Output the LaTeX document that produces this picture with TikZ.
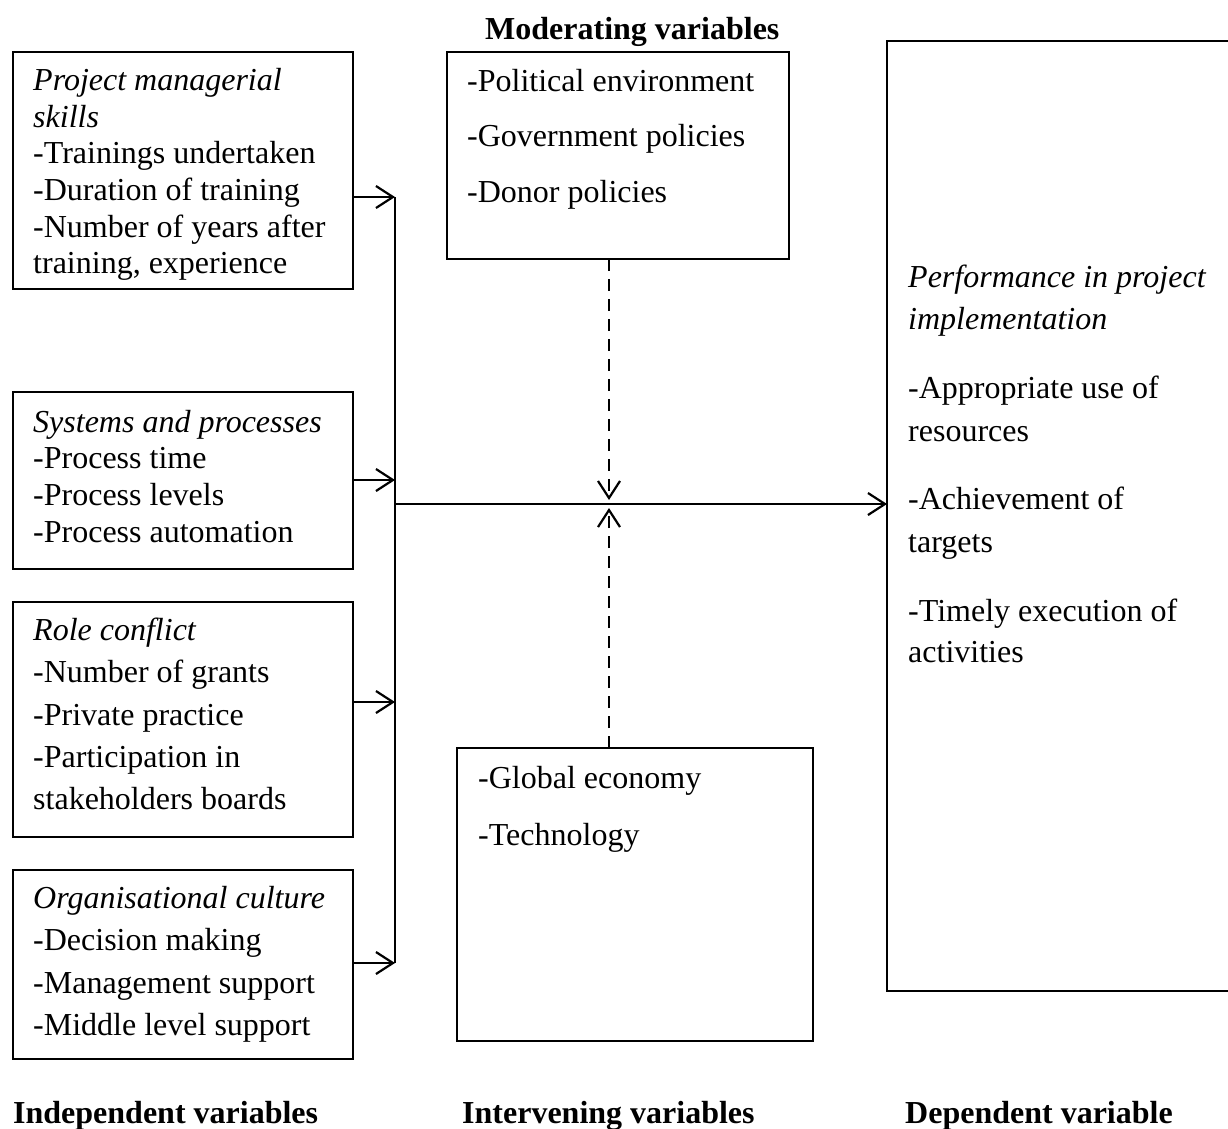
\documentclass[tikz,border=0pt]{standalone}
\usepackage{fontspec}
\setmainfont{Liberation Serif}
\usetikzlibrary{arrows.meta}
\begin{document}
\begin{tikzpicture}[x=1pt,y=-1pt,
  txt/.style={inner sep=0pt,anchor=base west,font=\fontsize{32}{38}\selectfont},
  itx/.style={txt,font=\fontsize{32}{38}\selectfont\itshape},
  bld/.style={txt,font=\fontsize{32}{38}\selectfont\bfseries},
  boxframe/.style={draw,line width=1.5pt},
  conn/.style={line width=2.2pt,-{Straight Barb[length=17pt,width=22pt,line width=2.2pt]}},
  dconn/.style={conn,dash pattern=on 12pt off 8pt},
  bus/.style={line width=2.2pt}]
\clip (0,0) rectangle (1228,1128);
\fill[white] (0,0) rectangle (1228,1128);

% boxes
\draw[boxframe] (13,52) rectangle (353,289);
\draw[boxframe] (13,392) rectangle (353,569);
\draw[boxframe] (13,602) rectangle (353,837);
\draw[boxframe] (13,870) rectangle (353,1059);
\draw[boxframe] (447,52) rectangle (789,259);
\draw[boxframe] (457,748) rectangle (813,1041);
\draw[boxframe] (887,41) rectangle (1240,991);

% named anchors on the box edges
\coordinate (b1e) at (353,197);
\coordinate (b2e) at (353,480);
\coordinate (b3e) at (353,702);
\coordinate (b4e) at (353,963);
\coordinate (j1) at (395,197);
\coordinate (j2) at (395,480);
\coordinate (j3) at (395,702);
\coordinate (j4) at (395,963);
\coordinate (jm) at (395,504);
\coordinate (rbw) at (887,504);
\coordinate (mods) at (609,259);
\coordinate (intn) at (609,748);
\coordinate (mdown) at (609,500);
\coordinate (mup) at (609,508);

% box 1
\node[itx] (p1) at (33,90) {Project managerial};
\node[itx] (p2) at (33,127) {skills};
\node[txt] (p3) at (33,163) {-Trainings undertaken};
\node[txt] (p4) at (33,200) {-Duration of training};
\node[txt] (p5) at (33,237) {-Number of years after};
\node[txt] (p6) at (33,273) {training, experience};
% box 2
\node[itx] (s1) at (33,432) {Systems and processes};
\node[txt] (s2) at (33,468) {-Process time};
\node[txt] (s3) at (33,505) {-Process levels};
\node[txt] (s4) at (33,542) {-Process automation};
% box 3
\node[itx] (r1) at (33,640) {Role conflict};
\node[txt] (r2) at (33,682) {-Number of grants};
\node[txt] (r3) at (33,725) {-Private practice};
\node[txt] (r4) at (33,767) {-Participation in};
\node[txt] (r5) at (33,809) {stakeholders boards};
% box 4
\node[itx] (o1) at (33,908) {Organisational culture};
\node[txt] (o2) at (33,950) {-Decision making};
\node[txt] (o3) at (33,993) {-Management support};
\node[txt] (o4) at (33,1035) {-Middle level support};
% moderating
\node[bld] (mt) at (485,39) {Moderating variables};
\node[txt] (m1) at (467,91) {-Political environment};
\node[txt] (m2) at (467,146) {-Government policies};
\node[txt] (m3) at (467,202) {-Donor policies};
% intervening
\node[txt] (i1) at (478,788) {-Global economy};
\node[txt] (i2) at (478,845) {-Technology};
% dependent
\node[itx] (d1) at (908,287) {Performance in project};
\node[itx] (d2) at (908,329) {implementation};
\node[txt] (d3) at (908,398) {-Appropriate use of};
\node[txt] (d4) at (908,441) {resources};
\node[txt] (d5) at (908,509) {-Achievement of};
\node[txt] (d6) at (908,552) {targets};
\node[txt] (d7) at (908,621) {-Timely execution of};
\node[txt] (d8) at (908,662) {activities};
% bottom labels
\node[bld] (l1) at (13,1123) {Independent variables};
\node[bld] (l2) at (462,1123) {Intervening variables};
\node[bld] (l3) at (905,1123) {Dependent variable};

% connectors
\draw[conn] (b1e) -- (j1);
\draw[conn] (b2e) -- (j2);
\draw[conn] (b3e) -- (j3);
\draw[conn] (b4e) -- (j4);
\draw[bus] (j1) -- (j4);
\draw[conn] (jm) -- (rbw);
\draw[dconn] (mods) -- (mdown);
\draw[dconn] (intn) -- (mup);
\end{tikzpicture}
\end{document}
